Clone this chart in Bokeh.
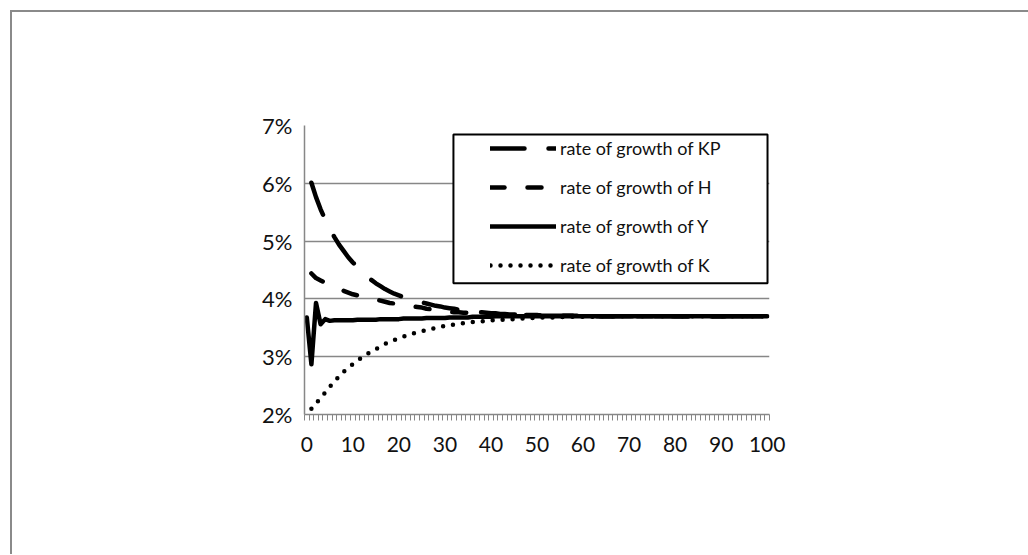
from bokeh.plotting import figure
from bokeh.models import Range1d, FixedTicker, PrintfTickFormatter, Legend, LegendItem, BoxAnnotation
from bokeh.embed import file_html
from bokeh.resources import INLINE

# ---------------- data ----------------
periods = list(range(101))

x_tick_values = [0, 10, 20, 30, 40, 50, 60, 70, 80, 90, 100]
y_tick_values = [2, 3, 4, 5, 6, 7]

growth_KP = [
    6.01, 5.76, 5.55, 5.37, 5.21, 5.07, 4.94, 4.83, 4.72, 4.63,
    4.55, 4.47, 4.40, 4.33, 4.27, 4.22, 4.17, 4.13, 4.09, 4.06,
    4.03, 4.01, 3.99, 3.96, 3.94, 3.92, 3.90, 3.88, 3.87, 3.85,
    3.84, 3.83, 3.81, 3.80, 3.79, 3.78, 3.77, 3.77, 3.76, 3.75,
    3.75, 3.74, 3.74, 3.73, 3.73, 3.73, 3.72, 3.72, 3.72, 3.72,
    3.71, 3.71, 3.71, 3.71, 3.71, 3.71, 3.71, 3.71, 3.71, 3.71,
    3.70, 3.70, 3.70, 3.70, 3.70, 3.70, 3.70, 3.70, 3.70, 3.70,
    3.70, 3.70, 3.70, 3.70, 3.70, 3.70, 3.70, 3.70, 3.70, 3.70,
    3.70, 3.70, 3.70, 3.70, 3.70, 3.70, 3.70, 3.70, 3.70, 3.70,
    3.70, 3.70, 3.70, 3.70, 3.70, 3.70, 3.70, 3.70, 3.70, 3.70,
]

growth_H = [
    4.44, 4.36, 4.32, 4.28, 4.24, 4.21, 4.17, 4.14, 4.11, 4.08,
    4.06, 4.04, 4.02, 4.00, 3.99, 3.97, 3.95, 3.93, 3.92, 3.91,
    3.89, 3.88, 3.87, 3.86, 3.85, 3.83, 3.82, 3.81, 3.80, 3.79,
    3.78, 3.77, 3.77, 3.76, 3.76, 3.75, 3.75, 3.74, 3.74, 3.74,
    3.73, 3.73, 3.73, 3.73, 3.73, 3.72, 3.72, 3.72, 3.72, 3.72,
    3.71, 3.71, 3.71, 3.71, 3.71, 3.71, 3.71, 3.71, 3.71, 3.71,
    3.70, 3.70, 3.70, 3.70, 3.70, 3.70, 3.70, 3.70, 3.70, 3.70,
    3.70, 3.70, 3.70, 3.70, 3.70, 3.70, 3.70, 3.70, 3.70, 3.70,
    3.70, 3.70, 3.70, 3.70, 3.70, 3.70, 3.70, 3.70, 3.70, 3.70,
    3.70, 3.70, 3.70, 3.70, 3.70, 3.70, 3.70, 3.70, 3.70, 3.70,
]

growth_Y = [
    3.68,
    2.87, 3.93, 3.56, 3.65, 3.62, 3.63, 3.63, 3.63, 3.63, 3.63,
    3.64, 3.64, 3.64, 3.64, 3.64, 3.65, 3.65, 3.65, 3.65, 3.65,
    3.66, 3.66, 3.66, 3.66, 3.66, 3.67, 3.67, 3.67, 3.67, 3.67,
    3.68, 3.68, 3.68, 3.68, 3.68, 3.69, 3.69, 3.69, 3.69, 3.69,
    3.70, 3.70, 3.70, 3.70, 3.70, 3.70, 3.70, 3.70, 3.70, 3.70,
    3.70, 3.70, 3.70, 3.70, 3.70, 3.70, 3.70, 3.70, 3.70, 3.70,
    3.70, 3.70, 3.70, 3.70, 3.70, 3.70, 3.70, 3.70, 3.70, 3.70,
    3.70, 3.70, 3.70, 3.70, 3.70, 3.70, 3.70, 3.70, 3.70, 3.70,
    3.70, 3.70, 3.70, 3.70, 3.70, 3.70, 3.70, 3.70, 3.70, 3.70,
    3.70, 3.70, 3.70, 3.70, 3.70, 3.70, 3.70, 3.70, 3.70, 3.70,
]

growth_K = [
    2.10, 2.19, 2.29, 2.38, 2.48, 2.57, 2.66, 2.74, 2.81, 2.87,
    2.93, 2.99, 3.04, 3.09, 3.13, 3.18, 3.22, 3.26, 3.29, 3.32,
    3.35, 3.37, 3.40, 3.42, 3.44, 3.46, 3.48, 3.50, 3.52, 3.53,
    3.54, 3.56, 3.57, 3.58, 3.59, 3.60, 3.61, 3.61, 3.62, 3.63,
    3.63, 3.64, 3.64, 3.65, 3.65, 3.66, 3.66, 3.66, 3.67, 3.67,
    3.68, 3.68, 3.68, 3.68, 3.68, 3.69, 3.69, 3.69, 3.69, 3.69,
    3.69, 3.69, 3.70, 3.70, 3.70, 3.70, 3.70, 3.70, 3.70, 3.70,
    3.70, 3.70, 3.70, 3.70, 3.70, 3.70, 3.70, 3.70, 3.70, 3.70,
    3.70, 3.70, 3.70, 3.70, 3.70, 3.70, 3.70, 3.70, 3.70, 3.70,
    3.70, 3.70, 3.70, 3.70, 3.70, 3.70, 3.70, 3.70, 3.70, 3.70,
]

series_labels = [
    "rate of growth of KP",
    "rate of growth of H",
    "rate of growth of Y",
    "rate of growth of K",
]

# ---------------- styling ----------------
GRAY = "#878787"
TEXT = "#111111"
FONT = "Lato"

p = figure(
    width=1018, height=544,
    output_backend="svg", toolbar_location=None,
    x_range=Range1d(-0.5, 100.5), y_range=Range1d(2, 7),
    min_border_left=292, min_border_right=261,
    min_border_top=113, min_border_bottom=142,
)
p.styles = {
    "margin-left": "10px", "margin-top": "10px",
    "border-left": "2px solid #8a8a8a", "border-top": "2px solid #8a8a8a",
}
p.outline_line_color = None
p.background_fill_color = "white"
p.border_fill_color = "white"

# y axis
p.yaxis.ticker = FixedTicker(ticks=y_tick_values)
p.yaxis.formatter = PrintfTickFormatter(format="%d%%")
p.yaxis.axis_line_color = GRAY
p.yaxis.axis_line_width = 1.5
p.yaxis.major_tick_in = 0
p.yaxis.major_tick_out = 0
p.yaxis.minor_tick_line_color = None
p.yaxis.major_label_standoff = 12
p.yaxis.major_label_text_font = FONT
p.yaxis.major_label_text_font_size = "22px"
p.yaxis.major_label_text_color = TEXT

# x axis (category style: a small tick at every category boundary)
boundaries = [k - 0.5 for k in periods] + [periods[-1] + 0.5]
p.xaxis.ticker = FixedTicker(ticks=x_tick_values, minor_ticks=boundaries)
p.xaxis.axis_line_color = GRAY
p.xaxis.axis_line_width = 1.5
p.xaxis.major_tick_in = 0
p.xaxis.major_tick_out = 0
p.xaxis.minor_tick_in = 0
p.xaxis.minor_tick_out = 6
p.xaxis.minor_tick_line_color = GRAY
p.xaxis.minor_tick_line_width = 1
p.xaxis.major_label_standoff = 16
p.xaxis.major_label_text_font = FONT
p.xaxis.major_label_text_font_size = "21px"
p.xaxis.major_label_text_color = TEXT

p.xgrid.visible = False
p.ygrid.ticker = FixedTicker(ticks=y_tick_values)
p.ygrid.grid_line_color = GRAY
p.ygrid.grid_line_width = 1.5

# series
r_kp = p.line(periods[1:], growth_KP, line_color="black", line_width=4.5,
              line_dash="34 24", line_cap="round", line_join="round")
r_h = p.line(periods[1:], growth_H, line_color="black", line_width=4.5,
             line_dash="14 23", line_cap="round", line_join="round")
r_y = p.line(periods, growth_Y, line_color="black", line_width=4.5,
             line_cap="round", line_join="round")
r_k = p.line(periods[1:], growth_K, line_color="black", line_width=4.5,
             line_dash="0 10", line_cap="round", line_join="round")

# legend frame
legend_box = BoxAnnotation(left=31.85, right=100.07, top=6.843, bottom=4.27,
                           fill_color="white", fill_alpha=1.0,
                           line_color="black", line_alpha=1.0, line_width=2)
p.add_layout(legend_box)

legend = Legend(
    items=[
        LegendItem(label=series_labels[0], renderers=[r_kp]),
        LegendItem(label=series_labels[1], renderers=[r_h]),
        LegendItem(label=series_labels[2], renderers=[r_y]),
        LegendItem(label=series_labels[3], renderers=[r_k]),
    ],
    location=(186, 138),
    padding=0, margin=0, spacing=17,
    glyph_height=20, glyph_width=66, label_height=20, label_standoff=4,
    label_text_font=FONT, label_text_font_size="18px", label_text_color=TEXT,
    border_line_color=None, background_fill_alpha=0,
)
p.add_layout(legend)

open("out.html", "w").write(file_html(p, INLINE))
